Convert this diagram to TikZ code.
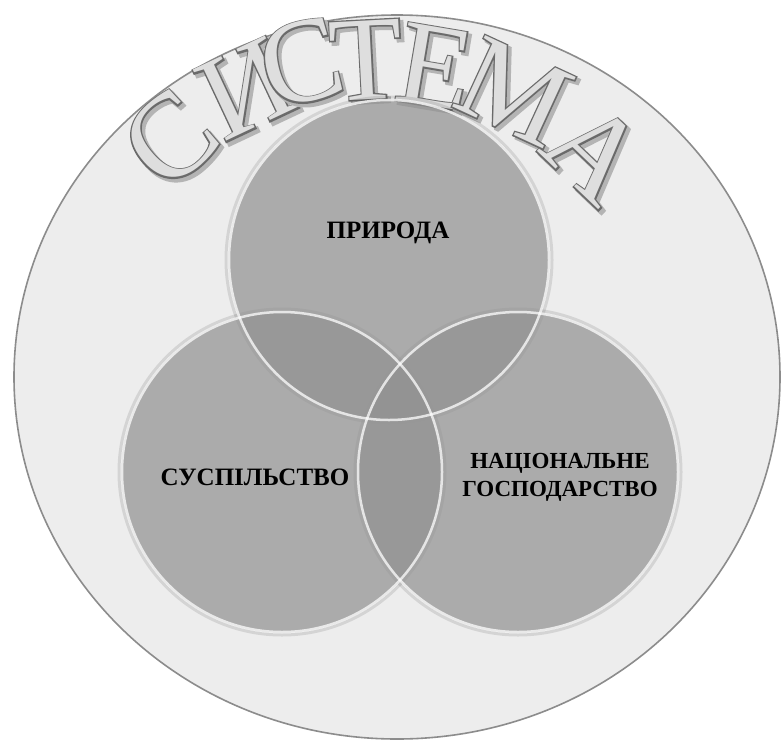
\documentclass[tikz,border=0pt]{standalone}
\usepackage{fontspec}
\setmainfont{Liberation Serif}
\newfontfamily\titlefill{Liberation Serif}
\newfontfamily\titleedge[FakeBold=2.4]{Liberation Serif}
\newfontfamily\titleshadow[FakeBold=3.2]{Liberation Serif}
\definecolor{bigfill}{HTML}{EDEDED}
\definecolor{bigline}{HTML}{8C8C8C}
\definecolor{circfill}{HTML}{929292}
\definecolor{letterfill}{HTML}{DEDEDE}
\definecolor{letterline}{HTML}{6A6A6A}
\definecolor{shadowc}{HTML}{B4B4B4}
\begin{document}
\begin{tikzpicture}[x=1pt,y=-1pt,
  venn/.style={fill=circfill, fill opacity=0.72},
  rim/.style={draw=white, draw opacity=0.75, line width=2.5pt},
  halo/.style={draw=black, draw opacity=0.10, line width=3pt},
  lbl/.style={font=\fontsize{25}{29}\selectfont\bfseries, text=black, align=center, inner sep=0pt},
  lblr/.style={font=\fontsize{23}{28}\selectfont\bfseries, text=black, align=center, inner sep=0pt},
  bigletter/.style={inner sep=0pt}]
\useasboundingbox (0,0) rectangle (781,742);
\fill[white] (0,0) rectangle (781,742);
\draw[fill=bigfill, draw=bigline, line width=1.6pt] (397,377) ellipse [x radius=383, y radius=362];
% arched title
\foreach \x/\y/\r/\ch [count=\i] in {170/139/41.6/С, 246/89/25.2/И, 301/63/14.5/С, 366/60/3/Т, 435/67/-9.6/Е, 514/92/-24.8/М, 595/152/-43.6/А}{
  \node[bigletter, rotate=\r, text=shadowc, font=\titleshadow\fontsize{120}{120}\selectfont] (sh\i) at (\x+3,\y+3) {\ch};
  \node[bigletter, rotate=\r, text=letterline, font=\titleedge\fontsize{120}{120}\selectfont] (ed\i) at (\x,\y) {\ch};
  \node[bigletter, rotate=\r, text=letterfill, font=\titlefill\fontsize{120}{120}\selectfont] (t\i) at (\x,\y) {\ch};
}
% venn circles
\draw[halo] (389,260) circle [radius=163];
\draw[halo] (282,472) circle [radius=163];
\draw[halo] (518,472) circle [radius=163];
\fill[venn] (389,260) circle [radius=161];
\fill[venn] (282,472) circle [radius=161];
\fill[venn] (518,472) circle [radius=161];
\draw[rim] (389,260) circle [radius=160];
\draw[rim] (282,472) circle [radius=160];
\draw[rim] (518,472) circle [radius=160];
\node[lbl] (nature) at (388,233) {ПРИРОДА};
\node[lbl] (society) at (255,477) {СУСПІЛЬСТВО};
\node[lblr] (economy) at (560,477) {НАЦІОНАЛЬНЕ\\ГОСПОДАРСТВО};
\end{tikzpicture}
\end{document}
